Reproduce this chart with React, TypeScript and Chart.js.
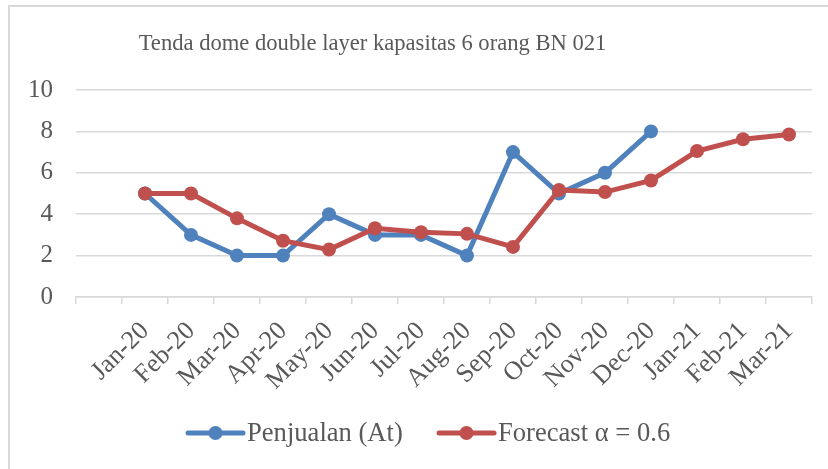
import React, { useEffect, useRef } from "react";
import { Chart, registerables } from "chart.js";

Chart.register(...registerables);

const TITLE = "Tenda dome double layer kapasitas 6 orang BN 021";
const categories = ["", "Jan-20", "Feb-20", "Mar-20", "Apr-20", "May-20", "Jun-20", "Jul-20", "Aug-20", "Sep-20", "Oct-20", "Nov-20", "Dec-20", "Jan-21", "Feb-21", "Mar-21"];
const penjualan = [null, 5, 3, 2, 2, 4, 3, 3, 2, 7, 5, 6, 8, null, null, null];
const forecast = [null, 5, 5, 3.8, 2.72, 2.29, 3.32, 3.13, 3.05, 2.42, 5.17, 5.07, 5.63, 7.05, 7.62, 7.85];
const seriesNames = ["Penjualan (At)", "Forecast α = 0.6"];
const yTicks = [0, 2, 4, 6, 8, 10];

const BLUE = "#4F81BD";
const RED = "#C0504D";
const TEXT = "#595959";
const GRID = "#d9d9d9";
const FONT = "'Liberation Serif', 'Times New Roman', serif";

const decorPlugin = {
  id: "decor",
  beforeDraw(chart: any) {
    const ctx = chart.ctx;
    ctx.save();
    ctx.strokeStyle = GRID;
    ctx.lineWidth = 2;
    ctx.beginPath();
    ctx.moveTo(9, 469);
    ctx.lineTo(9, 6);
    ctx.lineTo(828, 6);
    ctx.stroke();
    ctx.restore();
  },
  afterDraw(chart: any) {
    const ctx = chart.ctx;
    ctx.save();
    ctx.fillStyle = TEXT;
    ctx.font = `22.6px ${FONT}`;
    ctx.textAlign = "center";
    ctx.textBaseline = "middle";
    ctx.fillText(TITLE, 372.5, 44);

    const items = [
      { x1: 188, x2: 243, color: BLUE, tx: 247, label: chart.data.datasets[0].label },
      { x1: 439, x2: 494, color: RED, tx: 498, label: chart.data.datasets[1].label },
    ];
    const y = 433;
    for (const it of items) {
      ctx.strokeStyle = it.color;
      ctx.lineWidth = 5;
      ctx.lineCap = "round";
      ctx.beginPath();
      ctx.moveTo(it.x1, y);
      ctx.lineTo(it.x2, y);
      ctx.stroke();
      ctx.fillStyle = it.color;
      ctx.beginPath();
      ctx.arc((it.x1 + it.x2) / 2, y, 7, 0, Math.PI * 2);
      ctx.fill();
      ctx.fillStyle = TEXT;
      ctx.font = `26.6px ${FONT}`;
      ctx.textAlign = "left";
      ctx.textBaseline = "middle";
      ctx.fillText(it.label, it.tx, y + 1);
    }
    ctx.restore();
  },
};

export default function App() {
  const ref = useRef<HTMLCanvasElement>(null);
  useEffect(() => {
    if (!ref.current) return;
    const chart = new Chart(ref.current, {
      type: "line",
      data: {
        labels: categories,
        datasets: [
          {
            label: seriesNames[0],
            data: penjualan,
            borderColor: BLUE,
            backgroundColor: BLUE,
            pointBackgroundColor: BLUE,
            pointBorderWidth: 0,
            pointRadius: 7,
            borderWidth: 5,
            order: 2,
            spanGaps: false,
          },
          {
            label: seriesNames[1],
            data: forecast,
            borderColor: RED,
            backgroundColor: RED,
            pointBackgroundColor: RED,
            pointBorderWidth: 0,
            pointRadius: 7,
            borderWidth: 5,
            order: 1,
          },
        ],
      },
      options: {
        responsive: false,
        animation: false,
        layout: { padding: { left: 8, right: 16, top: 90, bottom: 72 } },
        plugins: {
          legend: { display: false },
          title: { display: false },
          tooltip: { enabled: false },
        },
        scales: {
          x: {
            offset: true,
            grid: {
              offset: true,
              drawOnChartArea: false,
              drawTicks: true,
              tickLength: 7,
              color: GRID,
              lineWidth: 1.5,
            },
            border: { display: true, color: GRID, width: 1.5 },
            ticks: {
              autoSkip: false,
              maxRotation: 45,
              minRotation: 45,
              padding: 12,
              color: TEXT,
              font: { family: FONT, size: 26 },
            },
            afterFit(scale: any) {
              scale.height = 100;
            },
          },
          y: {
            min: 0,
            max: 10,
            afterBuildTicks(scale: any) {
              scale.ticks = yTicks.map((v) => ({ value: v }));
            },
            grid: { drawTicks: false, color: GRID, lineWidth: 1.5 },
            border: { display: false },
            ticks: {
              padding: 23,
              color: TEXT,
              font: { family: FONT, size: 25 },
            },
            afterFit(scale: any) {
              scale.width = 68;
            },
          },
        },
      },
      plugins: [decorPlugin],
    });
    return () => chart.destroy();
  }, []);
  return (
    <div style={{ position: "fixed", left: 0, top: 0, width: 828, height: 469, background: "#fff" }}>
      <canvas ref={ref} width={828} height={469} style={{ width: 828, height: 469, display: "block" }} />
    </div>
  );
}
